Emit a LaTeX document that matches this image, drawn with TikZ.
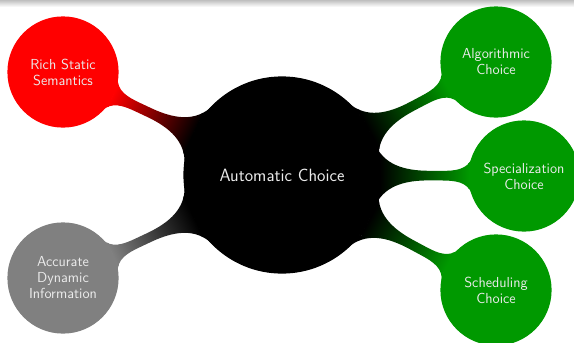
\documentclass[tikz,border=0pt]{standalone}
\usetikzlibrary{mindmap,shadings}
\colorlet{mygreen}{green!60!black}
\begin{document}
\begin{tikzpicture}[x=1pt,y=-1pt,mindmap,
  every concept/.style={circle,inner sep=0pt,text=white!92!black,font=\sffamily\fontsize{14.5}{16}\selectfont,align=center},
  rootc/.style={concept,concept color=black,fill=black,minimum size=196pt,text width=185pt,font=\sffamily\fontsize{17.8}{20}\selectfont},
  childc/.style={concept,minimum size=110pt,text width=100pt}]
\useasboundingbox (0,0) rectangle (574,343);
\fill[top color=black!25,bottom color=white] (0,0) rectangle (574,7);
\node[rootc] (root) at (282,175) {Automatic Choice};
\node[childc,concept color=red,fill=red] (rss) at (63,72) {Rich Static\\Semantics};
\node[childc,concept color=black!50,fill=black!50] (adi) at (63,278) {Accurate\\Dynamic\\Information};
\node[childc,concept color=mygreen,fill=mygreen] (alg) at (496,62) {Algorithmic\\Choice};
\node[childc,concept color=mygreen,fill=mygreen] (spc) at (524,176) {Specialization\\Choice};
\node[childc,concept color=mygreen,fill=mygreen] (sch) at (496,290) {Scheduling\\Choice};
\path (root) to[circle connection bar switch color=from (black) to (red)] (rss);
\path (root) to[circle connection bar switch color=from (black) to (black!50)] (adi);
\path (root) to[circle connection bar switch color=from (black) to (mygreen)] (alg);
\path (root) to[circle connection bar switch color=from (black) to (mygreen)] (spc);
\path (root) to[circle connection bar switch color=from (black) to (mygreen)] (sch);
\end{tikzpicture}
\end{document}
